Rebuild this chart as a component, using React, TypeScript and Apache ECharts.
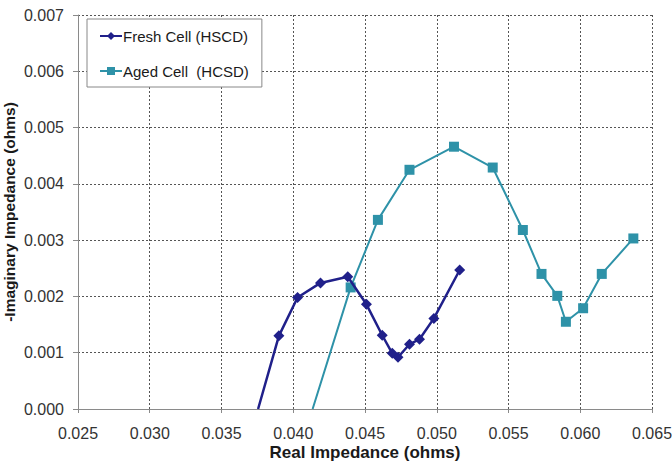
import React, { useEffect, useRef } from "react";
import * as echarts from "echarts";

// Nyquist-style impedance data (ohms)
const freshReal = [0.03755, 0.0390, 0.0403, 0.0419, 0.0438, 0.0451, 0.0462, 0.0469, 0.0473, 0.0481, 0.0488, 0.0498, 0.0516];
const freshImag = [0.0, 0.0013, 0.00198, 0.00224, 0.00235, 0.00186, 0.00131, 0.00099, 0.00092, 0.00115, 0.00124, 0.00161, 0.00247];

const agedReal = [0.04135, 0.0440, 0.0459, 0.0481, 0.0512, 0.0539, 0.0560, 0.0573, 0.0584, 0.0590, 0.0602, 0.0615, 0.0637];
const agedImag = [0.0, 0.00216, 0.00336, 0.00425, 0.00466, 0.00429, 0.00318, 0.0024, 0.00201, 0.00155, 0.00179, 0.0024, 0.00303];

const seriesNames = ["Fresh Cell (HSCD)", "Aged Cell  (HCSD)"];

const FONT = "Liberation Sans, Arial, sans-serif";

function toPoints(xs: number[], ys: number[]) {
  // the first point sits on the axis where the sweep enters the visible range; no marker there
  return xs.map((x, i) =>
    i === 0 ? { value: [x, ys[i]], symbol: "none" } : { value: [x, ys[i]] }
  );
}

export default function App() {
  const ref = useRef<HTMLDivElement>(null);

  useEffect(() => {
    if (!ref.current) return;
    const chart = echarts.init(ref.current, undefined, { renderer: "svg" });
    const gridLine = { show: true, lineStyle: { color: "#555555", type: [2, 2] as any, width: 1 } };
    chart.setOption({
      animation: false,
      backgroundColor: "#ffffff",
      grid: { left: 78, right: 20, top: 15, bottom: 62, containLabel: false, outerBoundsMode: "none" },
      legend: {
        show: true,
        orient: "vertical",
        left: 87,
        top: 19,
        padding: [8, 13, 7, 12],
        itemGap: 17,
        itemWidth: 22,
        itemHeight: 10,
        backgroundColor: "#ffffff",
        borderColor: "#888888",
        borderWidth: 1,
        textStyle: { fontFamily: FONT, fontSize: 15, lineHeight: 18, color: "#1a1a1a", padding: [0, 0, 0, -4] },
        data: seriesNames,
      },
      xAxis: {
        type: "value",
        min: 0.025,
        max: 0.065,
        interval: 0.005,
        name: "Real Impedance (ohms)",
        nameLocation: "middle",
        nameGap: 35,
        nameMoveOverlap: false,
        nameTextStyle: { fontFamily: FONT, fontSize: 17, fontWeight: "bold", color: "#1a1a1a" },
        axisLine: { show: true, onZero: false, lineStyle: { color: "#8a8a8a", width: 1 } },
        axisTick: { show: true, length: 4, lineStyle: { color: "#8a8a8a" } },
        axisLabel: {
          fontFamily: FONT,
          fontSize: 16,
          color: "#333333",
          margin: 16,
          formatter: (v: number) => v.toFixed(3),
        },
        splitLine: gridLine,
      },
      yAxis: {
        type: "value",
        min: 0,
        max: 0.007,
        interval: 0.001,
        name: "-Imaginary Impedance (ohms)",
        nameLocation: "middle",
        nameGap: 61,
        nameMoveOverlap: false,
        nameRotate: 90,
        nameTextStyle: { fontFamily: FONT, fontSize: 15.5, fontWeight: "bold", color: "#1a1a1a" },
        axisLine: { show: true, lineStyle: { color: "#8a8a8a", width: 1 } },
        axisTick: { show: true, length: 5, lineStyle: { color: "#8a8a8a" } },
        axisLabel: {
          fontFamily: FONT,
          fontSize: 16,
          color: "#333333",
          margin: 14,
          formatter: (v: number) => v.toFixed(3),
        },
        splitLine: gridLine,
      },
      series: [
        {
          name: seriesNames[0],
          type: "line",
          data: toPoints(freshReal, freshImag),
          symbol: "diamond",
          symbolSize: 11,
          color: "#20208a",
          lineStyle: { color: "#20208a", width: 2.5 },
          itemStyle: { color: "#20208a" },
          z: 3,
        },
        {
          name: seriesNames[1],
          type: "line",
          data: toPoints(agedReal, agedImag),
          symbol: "rect",
          symbolSize: 10,
          color: "#2e92a8",
          lineStyle: { color: "#2e92a8", width: 2 },
          itemStyle: { color: "#2e92a8" },
          z: 2,
        },
      ],
    });
    return () => chart.dispose();
  }, []);

  return <div ref={ref} style={{ width: 672, height: 471, position: "absolute", left: 0, top: 0 }} />;
}
